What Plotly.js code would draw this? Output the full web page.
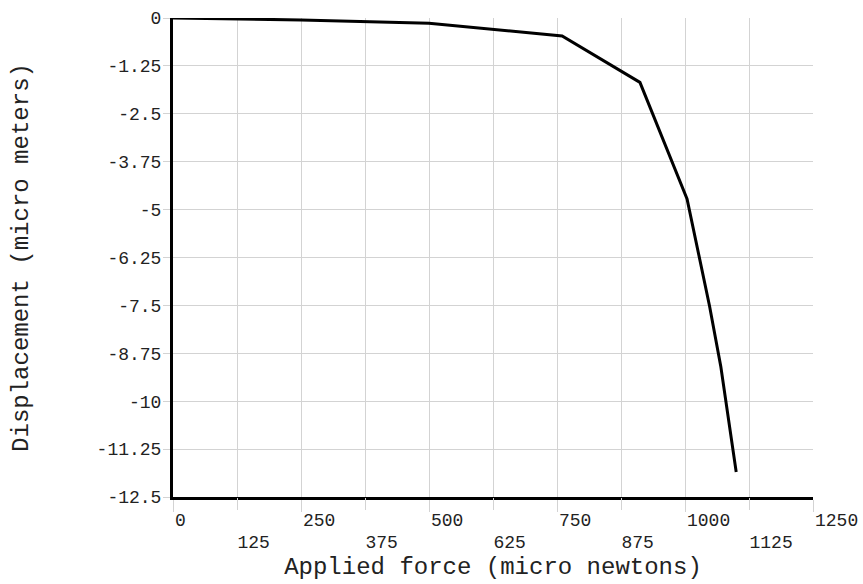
<!DOCTYPE html>
<html>
<head>
<meta charset="utf-8">
<script src="https://cdn.plot.ly/plotly-3.0.1.min.js"></script>
<style>html,body{margin:0;padding:0;background:#fff;}#chart{width:863px;height:584px;}</style>
</head>
<body>
<div id="chart"></div>
<script>
// Data
const force = [0, 250, 500, 760, 912, 1004, 1048, 1070, 1100];
const displacement = [0, -0.05, -0.14, -0.47, -1.68, -4.72, -7.52, -9.1, -11.85];

const xTickVals = [0, 125, 250, 375, 500, 625, 750, 875, 1000, 1125, 1250];
const xTickLabels = ["0", "125", "250", "375", "500", "625", "750", "875", "1000", "1125", "1250"];
const yTickVals = [0, -1.25, -2.5, -3.75, -5, -6.25, -7.5, -8.75, -10, -11.25, -12.5];
const yTickLabels = ["0", "-1.25", "-2.5", "-3.75", "-5", "-6.25", "-7.5", "-8.75", "-10", "-11.25", "-12.5"];

// alternate rows: even ticks on the first row, odd ticks on the second
const evenVals = xTickVals.filter((v, i) => i % 2 === 0);
const evenText = xTickLabels.filter((v, i) => i % 2 === 0);
const oddVals = xTickVals.filter((v, i) => i % 2 === 1);
const oddText = xTickLabels.filter((v, i) => i % 2 === 1);

const FONT = '"Courier New", "Liberation Mono", monospace';
const TXT = "#222222";
const GRID = "#d3d3d3";

const trace = {
  x: force,
  y: displacement,
  type: "scatter",
  mode: "lines",
  line: {color: "#000000", width: 3},
  hoverinfo: "skip",
  showlegend: false
};
// carrier for the second label row (draws nothing visible)
const rowTrace = {
  x: force,
  y: displacement,
  xaxis: "x2",
  type: "scatter",
  mode: "lines",
  line: {color: "rgba(0,0,0,0)", width: 0},
  hoverinfo: "skip",
  showlegend: false
};

const layout = {
  width: 863,
  height: 584,
  margin: {l: 173, r: 50, t: 18, b: 87, pad: 0},
  paper_bgcolor: "#ffffff",
  plot_bgcolor: "#ffffff",
  font: {family: FONT, color: TXT, size: 18},
  showlegend: false,
  xaxis: {
    range: [0, 1250],
    tickmode: "array",
    tickvals: evenVals,
    ticktext: evenText,
    tickangle: 0,
    ticklabelposition: "outside right",
    ticklabelstandoff: 4,
    ticks: "outside",
    ticklen: 12,
    tickcolor: GRID,
    tickwidth: 1,
    tickfont: {family: FONT, size: 18, color: TXT},
    showgrid: true,
    gridcolor: GRID,
    gridwidth: 1,
    zeroline: false,
    showline: true,
    linecolor: "#000000",
    linewidth: 3,
    automargin: false,
    title: {text: "Applied force (micro newtons)", font: {family: FONT, size: 24, color: TXT}, standoff: 28}
  },
  xaxis2: {
    overlaying: "x",
    anchor: "y",
    side: "bottom",
    range: [0, 1250],
    tickmode: "array",
    tickvals: oddVals,
    ticktext: oddText,
    tickangle: 0,
    ticklabelposition: "outside right",
    ticklabelstandoff: 28,
    ticks: "outside",
    ticklen: 12,
    tickcolor: GRID,
    tickwidth: 1,
    tickfont: {family: FONT, size: 18, color: TXT},
    showgrid: true,
    gridcolor: GRID,
    gridwidth: 1,
    zeroline: false,
    showline: false,
    automargin: false
  },
  yaxis: {
    range: [-12.5, 0],
    tickmode: "array",
    tickvals: yTickVals,
    ticktext: yTickLabels,
    tickangle: 0,
    ticks: "outside",
    ticklen: 7,
    tickcolor: GRID,
    tickwidth: 1,
    tickfont: {family: FONT, size: 18, color: TXT},
    ticklabelstandoff: -2,
    showgrid: true,
    gridcolor: GRID,
    gridwidth: 1,
    zeroline: false,
    showline: true,
    linecolor: "#000000",
    linewidth: 3,
    automargin: false,
    title: {text: "Displacement (micro meters)", font: {family: FONT, size: 24, color: TXT}, standoff: 62}
  }
};

Plotly.newPlot("chart", [rowTrace, trace], layout, {displayModeBar: false, staticPlot: true});
</script>
</body>
</html>
